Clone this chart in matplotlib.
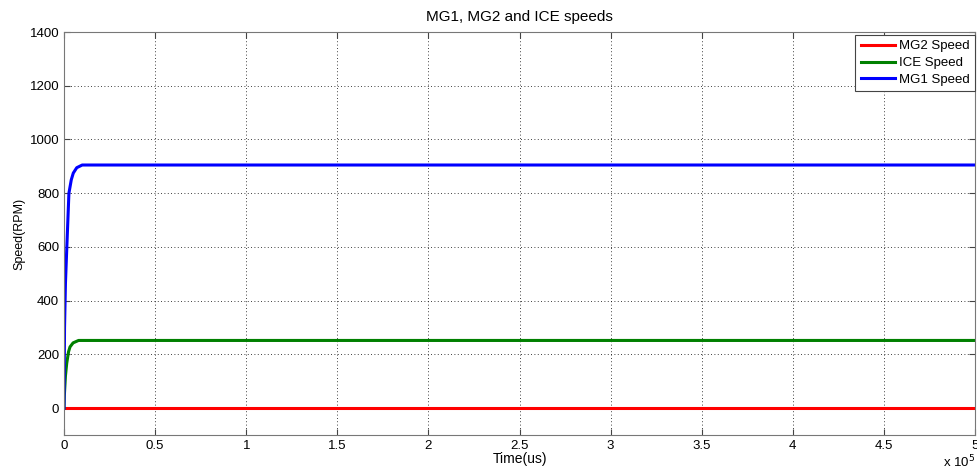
import matplotlib.pyplot as plt

plt.rcParams['font.family'] = ['Liberation Sans', 'DejaVu Sans']

# time in units of 1e5 us, speeds in RPM
t_mg1 = [0, 0.003, 0.008, 0.015, 0.027, 0.04, 0.051, 0.07, 0.1, 5]
mg1 = [0, 300, 465, 590, 800, 850, 875, 895, 905, 905]

t_ice = [0, 0.002, 0.008, 0.015, 0.025, 0.033, 0.05, 0.08, 5]
ice = [0, 48, 120, 167, 210, 228, 243, 252, 252]

t_mg2 = [0, 5]
mg2 = [0, 0]

fig = plt.figure(figsize=(9.77, 4.73), dpi=100)
ax = fig.add_axes([0.0655, 0.0803, 0.9325, 0.852])

ax.plot(t_mg2, mg2, color="red", lw=2.2, label="MG2 Speed")
ax.plot(t_ice, ice, color="green", lw=2.2, label="ICE Speed")
ax.plot(t_mg1, mg1, color="blue", lw=2.2, label="MG1 Speed")

ax.set_xlim(0, 5)
ax.set_ylim(-100, 1400)
ax.set_xticks([0, 0.5, 1, 1.5, 2, 2.5, 3, 3.5, 4, 4.5, 5])
ax.set_xticklabels(["0", "0.5", "1", "1.5", "2", "2.5", "3", "3.5", "4", "4.5", "5"])
ax.set_yticks(range(0, 1401, 200))

ax.grid(True, color="black", linestyle=(0, (1, 3)), linewidth=0.6)
ax.tick_params(direction="in", length=4, labelsize=9.5, colors="#444444", labelcolor="black", top=True, right=True)
for s in ax.spines.values():
    s.set_color("#777777")

ax.set_title("MG1, MG2 and ICE speeds", fontsize=11, pad=8)
ax.set_xlabel("Time(us)", fontsize=10, labelpad=0)
ax.set_ylabel("Speed(RPM)", fontsize=9, labelpad=3)
ax.text(1.0, -0.068, "x 10$^5$", transform=ax.transAxes, ha="right", va="center", fontsize=9.5)

leg = ax.legend(loc="upper right", bbox_to_anchor=(1.0, 0.993), fontsize=9.5, fancybox=False,
                edgecolor="#444444", framealpha=1, borderaxespad=0, handlelength=2.6,
                borderpad=0.4, labelspacing=0.35, handletextpad=0.3)
leg.get_frame().set_linewidth(0.8)

fig.savefig("out.png", dpi=100)
